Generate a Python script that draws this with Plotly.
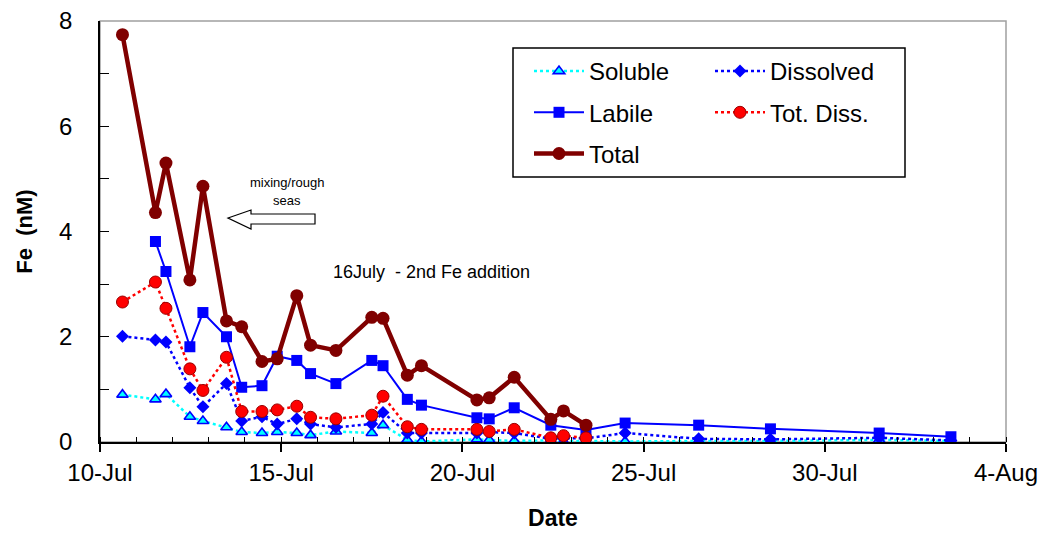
import pandas as pd
import plotly.graph_objects as go

# ---------------- data (day of July, fractional) ----------------
days_main = [10.62, 11.53, 11.82, 12.48, 12.84, 13.49, 13.91, 14.47, 14.89, 15.43, 15.81,
             16.51, 17.50, 17.81, 18.48, 18.87, 20.40, 20.74, 21.43, 22.44, 22.79, 23.41]
days_late = [24.49, 26.52, 28.50, 31.50, 33.48]
days_labile = [11.53, 11.82, 12.48, 12.84, 13.49, 13.91, 14.47, 14.89, 15.43, 15.81, 16.51,
               17.50, 17.81, 18.48, 18.87, 20.40, 20.74, 21.43, 22.44, 23.41,
               24.49, 26.52, 28.50, 31.50, 33.48]

soluble = [0.90, 0.81, 0.91, 0.48, 0.40, 0.28, 0.19, 0.17, 0.19, 0.17, 0.13, 0.20, 0.17, 0.32,
           0.04, 0.01, 0.05, 0.04, 0.02, 0.03, 0.01, 0.02, 0.01, 0.02, 0.02, 0.04, 0.02]
dissolved = [2.01, 1.94, 1.90, 1.03, 0.67, 1.11, 0.40, 0.48, 0.34, 0.44, 0.34, 0.28, 0.34, 0.56,
             0.17, 0.17, 0.17, 0.19, 0.17, 0.06, 0.07, 0.07, 0.17, 0.06, 0.05, 0.08, 0.03]
labile = [3.81, 3.24, 1.81, 2.46, 2.00, 1.04, 1.07, 1.63, 1.55, 1.30, 1.11, 1.55, 1.45, 0.81,
          0.70, 0.46, 0.44, 0.65, 0.32, 0.23, 0.36, 0.32, 0.25, 0.17, 0.10]
tot_diss = [2.66, 3.04, 2.54, 1.39, 0.98, 1.61, 0.58, 0.58, 0.61, 0.68, 0.47, 0.44, 0.51, 0.87,
            0.29, 0.24, 0.24, 0.20, 0.24, 0.08, 0.12, 0.08]
total = [7.74, 4.36, 5.30, 3.08, 4.86, 2.30, 2.19, 1.53, 1.58, 2.78, 1.84, 1.74, 2.37, 2.35,
         1.27, 1.45, 0.80, 0.84, 1.23, 0.43, 0.59, 0.32]

x_start, x_end = 10, 35  # 10-Jul .. 4-Aug
base = pd.Timestamp("2002-07-01")


def to_dates(days):
    return [base + pd.Timedelta(days=d - 1) for d in days]


FONT = "Arial, Liberation Sans, sans-serif"

fig = go.Figure()

fig.add_trace(go.Scatter(
    x=to_dates(days_main + days_late), y=soluble, name="Soluble", mode="lines+markers",
    line=dict(color="#00FFFF", width=2.5, dash="dot"),
    marker=dict(symbol="triangle-up", size=10, color="#00FFFF", line=dict(color="#0000FF", width=1.6)),
    legend="legend", legendgroup="a"))
fig.add_trace(go.Scatter(
    x=to_dates(days_main + days_late), y=dissolved, name="Dissolved", mode="lines+markers",
    line=dict(color="#0000FF", width=2.5, dash="dot"),
    marker=dict(symbol="diamond", size=10, color="#0000FF"),
    legend="legend2", legendgroup="b"))
fig.add_trace(go.Scatter(
    x=to_dates(days_labile), y=labile, name="Labile", mode="lines+markers",
    line=dict(color="#0000FF", width=2),
    marker=dict(symbol="square", size=11, color="#0000FF"),
    legend="legend", legendgroup="c"))
fig.add_trace(go.Scatter(
    x=to_dates(days_main), y=tot_diss, name="Tot. Diss.", mode="lines+markers",
    line=dict(color="#FF0000", width=2.5, dash="dot"),
    marker=dict(symbol="circle", size=12, color="#FF0000", line=dict(color="#990000", width=1)),
    legend="legend2", legendgroup="d"))
fig.add_trace(go.Scatter(
    x=to_dates(days_main), y=total, name="Total", mode="lines+markers",
    line=dict(color="#800000", width=4.5),
    marker=dict(symbol="circle", size=13, color="#800000"),
    legend="legend", legendgroup="e"))

W, H = 1049, 533
# page shows the figure offset by 8px (body margin); plot area on page: x 100..1006, y 21..442
L, T = 92, 13
pw, ph = 906, 421
R, B = W - L - pw, H - T - ph
PL, PB = 100, 442  # page coords of plot-left and plot-bottom


def px(x):
    return (x - PL) / pw


def py(y):
    return (PB - y) / ph


# arrow outline (page pixel coords converted to paper)
arrow_pts = [(228, 218), (251, 210), (251, 214), (315, 214), (315, 224), (251, 224), (251, 229)]
path = "M " + " L ".join(f"{px(a):.5f},{py(b):.5f}" for a, b in arrow_pts) + " Z"

shapes = [
    dict(type="rect", xref="paper", yref="paper", x0=0, x1=1, y0=0, y1=1,
         line=dict(color="#A0A0A0", width=1.5), layer="below"),
    dict(type="rect", xref="paper", yref="paper", x0=px(513), x1=px(905), y0=py(177), y1=py(48),
         line=dict(color="black", width=1.5), fillcolor="white", layer="below"),
    dict(type="path", xref="paper", yref="paper", path=path,
         line=dict(color="black", width=1.2), fillcolor="white"),
]

annotations = [
    dict(xref="paper", yref="paper", x=px(287), y=py(182), text="mixing/rough", showarrow=False,
         font=dict(size=13, family=FONT, color="black"), xanchor="center", yanchor="middle"),
    dict(xref="paper", yref="paper", x=px(287), y=py(200), text="seas", showarrow=False,
         font=dict(size=13, family=FONT, color="black"), xanchor="center", yanchor="middle"),
    dict(xref="paper", yref="paper", x=px(331), y=py(272), text="16July&nbsp;&nbsp;- 2nd Fe addition",
         showarrow=False, font=dict(size=18, family=FONT, color="black"),
         xanchor="left", yanchor="middle"),
]

fig.update_layout(
    width=W, height=H,
    margin=dict(l=L, r=R, t=T, b=B),
    paper_bgcolor="white", plot_bgcolor="white",
    font=dict(family=FONT, color="black", size=24),
    shapes=shapes, annotations=annotations,
    legend=dict(x=px(529), y=py(49), xanchor="left", yanchor="top", bgcolor="rgba(0,0,0,0)",
                font=dict(size=24, family=FONT), tracegroupgap=7, itemwidth=50,
                traceorder="grouped"),
    legend2=dict(x=px(710), y=py(49), xanchor="left", yanchor="top", bgcolor="rgba(0,0,0,0)",
                 font=dict(size=24, family=FONT), tracegroupgap=7, itemwidth=50,
                 traceorder="grouped"),
    xaxis=dict(
        type="date", automargin=False,
        range=to_dates([x_start, x_end]),
        tick0=to_dates([x_start])[0], dtick=5 * 86400000, tickformat="%-d-%b",
        ticks="outside", ticklen=8, tickwidth=1.5, tickcolor="black",
        minor=dict(dtick=86400000, ticks="inside", ticklen=5, tickwidth=1.2, tickcolor="black",
                   showgrid=False),
        showline=True, linecolor="black", linewidth=2, showgrid=False, zeroline=False,
        tickfont=dict(size=24, family=FONT), ticklabeloverflow="allow",
        title=dict(text="<b>Date</b>", font=dict(size=23, family=FONT), standoff=25),
    ),
    yaxis=dict(
        range=[0, 8], dtick=2, tick0=0, automargin=False,
        ticks="inside", ticklen=9, tickwidth=1.2, tickcolor="black",
        minor=dict(dtick=1, ticks="inside", ticklen=9, tickwidth=1.2, tickcolor="black",
                   showgrid=False),
        showline=True, linecolor="black", linewidth=1.5, showgrid=False, zeroline=False,
        tickfont=dict(size=24, family=FONT), ticklabelstandoff=21, ticklabeloverflow="allow",
        title=dict(text="<b>Fe&nbsp;&nbsp;(nM)</b>", font=dict(size=22, family=FONT), standoff=20),
    ),
    showlegend=True,
)

fig.write_html("out.html")
